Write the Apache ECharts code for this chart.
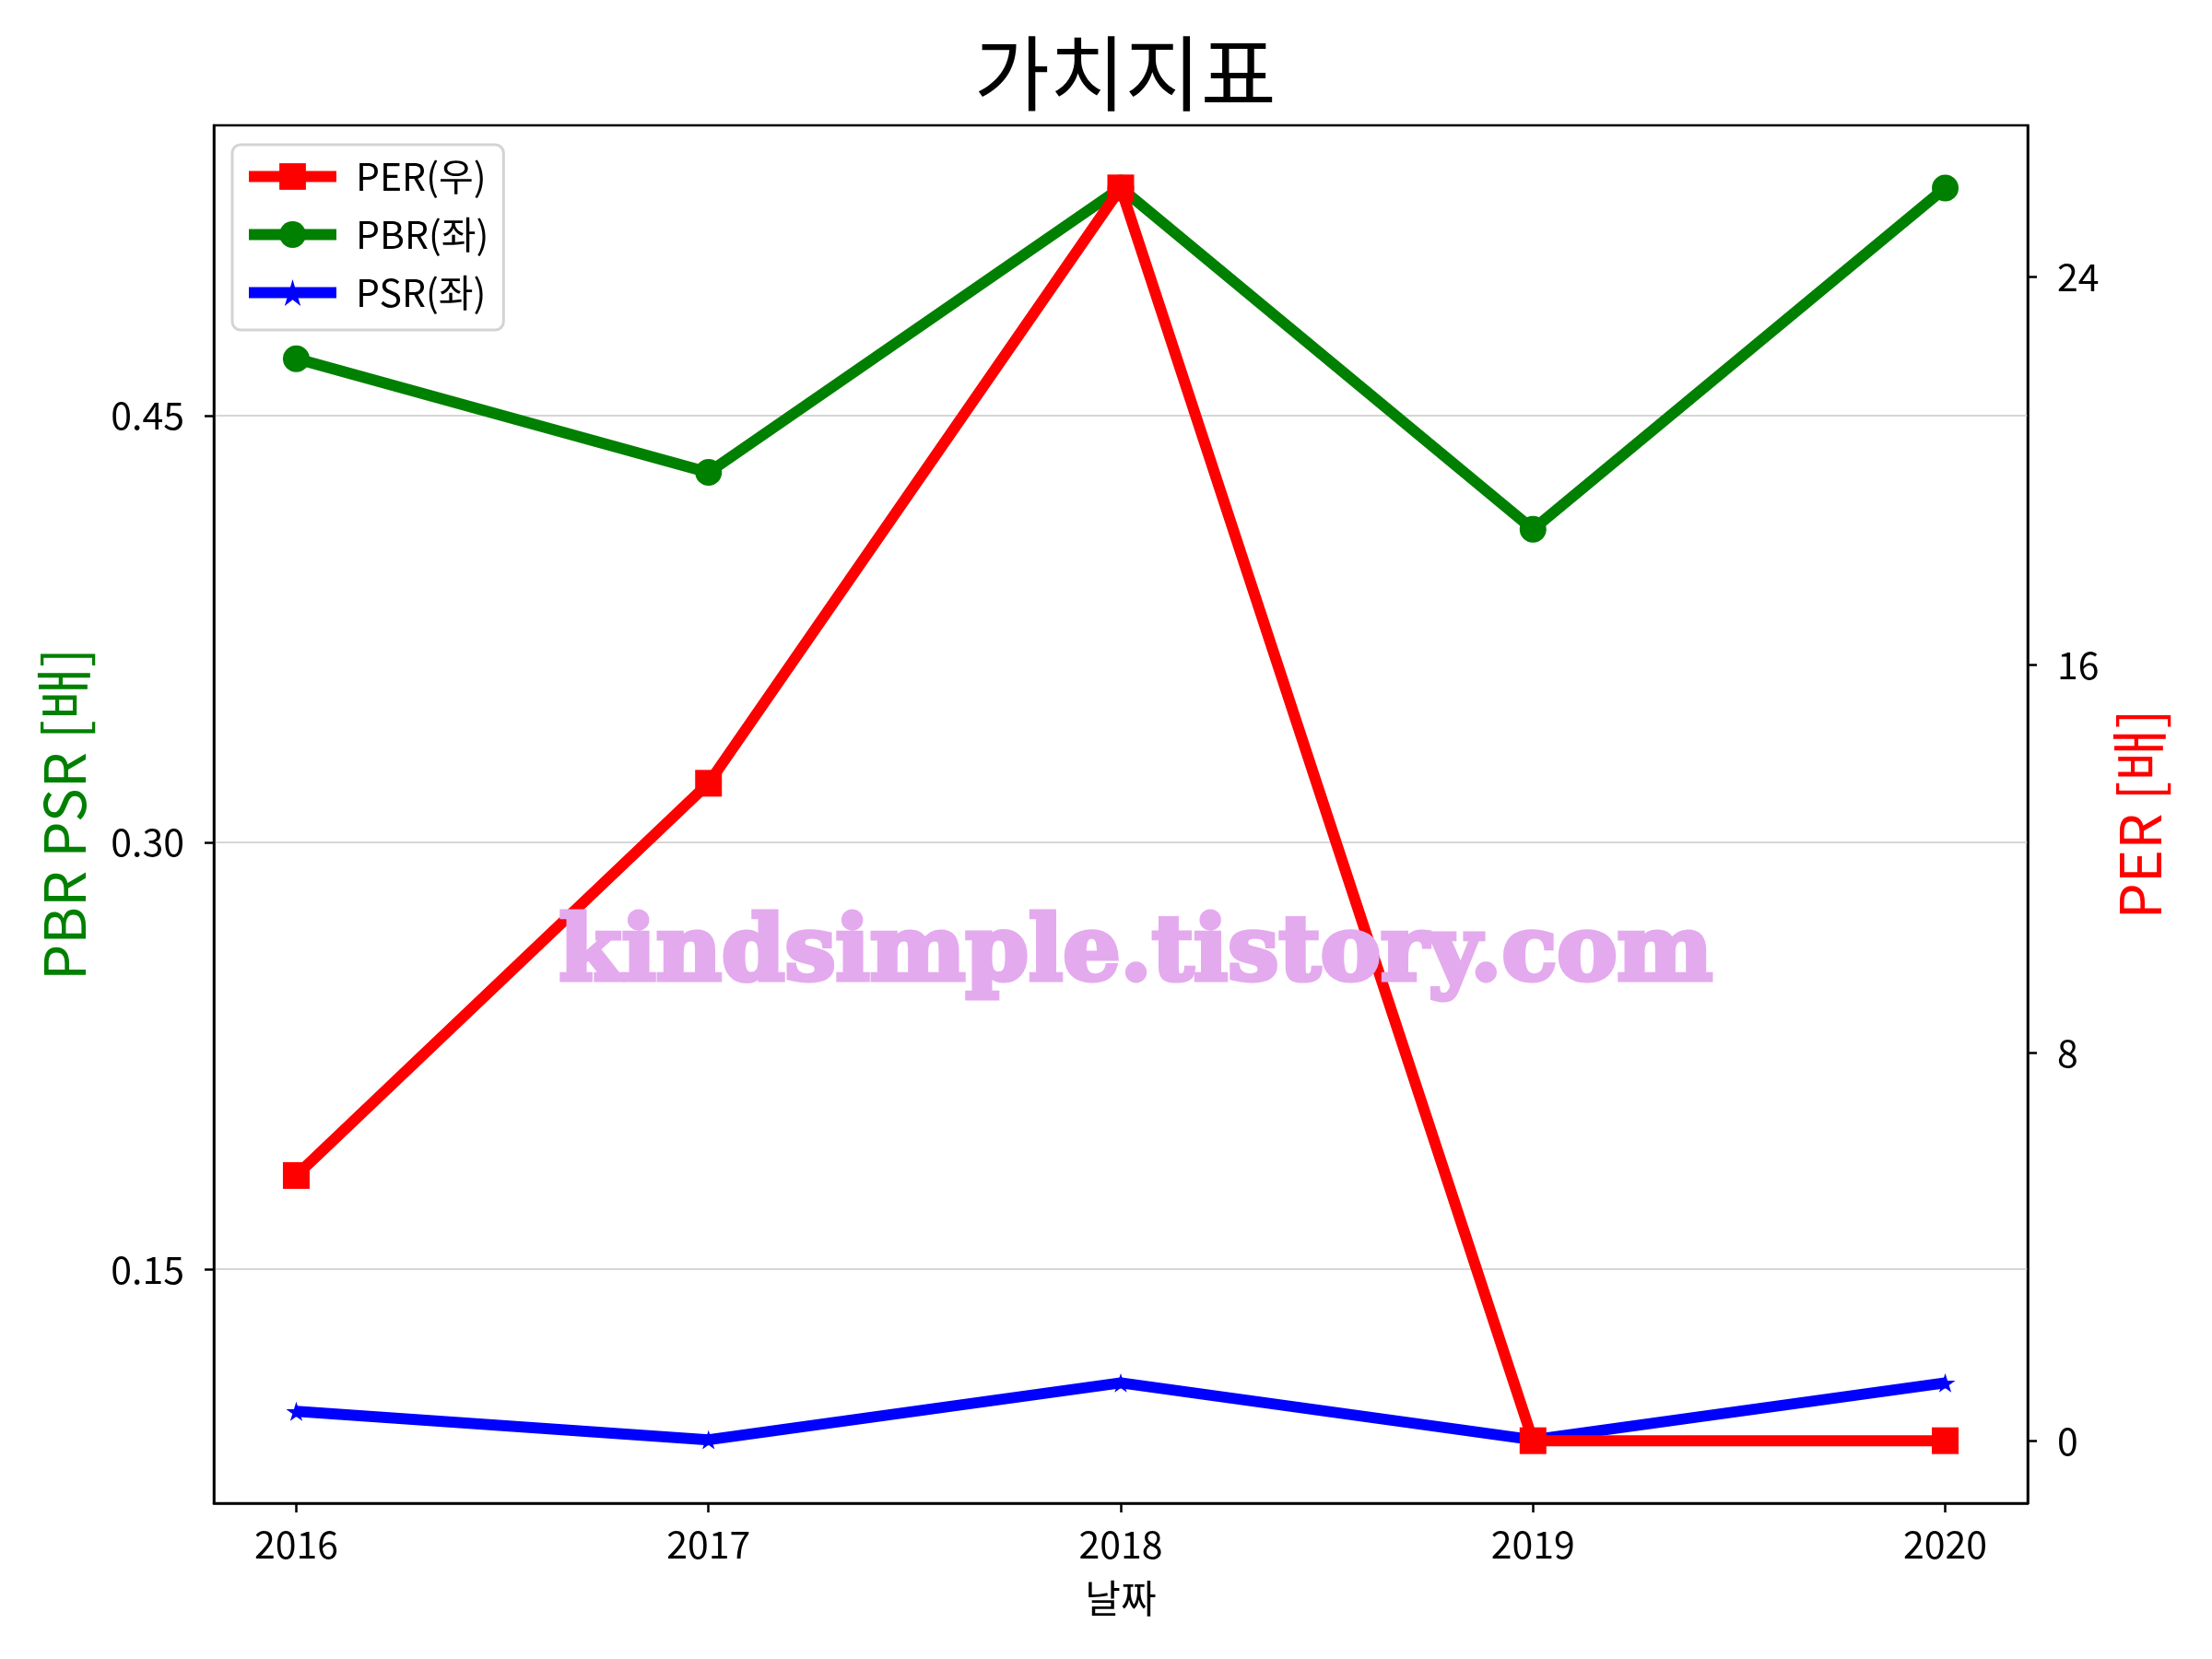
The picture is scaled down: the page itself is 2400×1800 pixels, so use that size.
<!DOCTYPE html>
<html>
<head>
<meta charset="utf-8">
<script src="https://cdn.jsdelivr.net/npm/echarts@6/dist/echarts.min.js"></script>
<style>html,body{margin:0;padding:0;background:#fff;}#chart{width:2400px;height:1800px;}</style>
</head>
<body>
<div id="chart"></div>
<script>
const years = [2016, 2017, 2018, 2019, 2020];
const perValues = [5.47, 13.56, 25.84, 0, 0];
const pbrValues = [0.470, 0.430, 0.530, 0.410, 0.530];
const psrValues = [0.100, 0.090, 0.110, 0.090, 0.110];
const leftTicks = [0.15, 0.30, 0.45];
const rightTicks = [0, 8, 16, 24];
const xTicks = [2016, 2017, 2018, 2019, 2020];

const FONT = '"Noto Sans CJK KR", "Noto Sans", sans-serif';
const starPath = 'path://M50,0 L61,35 L98,35 L68,57 L79,91 L50,70 L21,91 L32,57 L2,35 L39,35 Z';

function pairs(vals) { return years.map((y, i) => [y, vals[i]]); }

const chart = echarts.init(document.getElementById('chart'), null, {renderer: 'canvas'});
chart.setOption({
  backgroundColor: '#fff',
  animation: false,
  title: {
    text: '가치지표', left: 1052, top: 30,
    textStyle: {fontFamily: FONT, fontSize: 89, fontWeight: 'normal', color: '#000'}
  },
  legend: {
    orient: 'vertical', left: 252, top: 157,
    data: ['PER(우)', 'PBR(좌)', 'PSR(좌)'],
    itemWidth: 95, itemHeight: 36, itemGap: 22,
    padding: [14, 16, 20, 12],
    lineStyle: {width: 12},
    backgroundColor: '#fff', borderColor: '#d4d4d4', borderWidth: 3, borderRadius: 9,
    textStyle: {fontFamily: FONT, fontSize: 41, color: '#000', padding: [0, 0, 0, 16]}
  },
  grid: {left: 232, right: 200, top: 136, bottom: 169, show: true, borderColor: '#000', borderWidth: 2.5, backgroundColor: 'transparent'},
  xAxis: {
    type: 'value', min: 2015.8, max: 2020.2,
    name: '날짜', nameLocation: 'middle', nameGap: 82,
    nameTextStyle: {fontFamily: FONT, fontSize: 42, color: '#000'},
    axisLine: {show: true, onZero: false, lineStyle: {color: '#000', width: 2.5}},
    axisTick: {show: true, length: 10, lineStyle: {color: '#000', width: 2.5}, customValues: xTicks},
    axisLabel: {fontFamily: FONT, fontSize: 41, color: '#000', margin: 24, customValues: xTicks, formatter: v => String(v)},
    splitLine: {show: false}
  },
  yAxis: [
    {
      type: 'value', min: 0.0677, max: 0.552, position: 'left',
      name: 'PBR PSR [배]', nameLocation: 'middle', nameGap: 132, nameRotate: 90,
      nameTextStyle: {fontFamily: FONT, fontSize: 62, color: '#008000'},
      axisLine: {show: true, onZero: false, lineStyle: {color: '#000', width: 2.5}},
      axisTick: {show: true, length: 10, lineStyle: {color: '#000', width: 2.5}, customValues: leftTicks},
      axisLabel: {fontFamily: FONT, fontSize: 41, color: '#000', margin: 32, customValues: leftTicks, formatter: v => v.toFixed(2)},
      splitLine: {show: false}
    },
    {
      type: 'value', min: -1.29, max: 27.13, position: 'right',
      name: 'PER [배]', nameLocation: 'middle', nameGap: 90, nameRotate: 90,
      nameTextStyle: {fontFamily: FONT, fontSize: 62, color: '#ff0000'},
      axisLine: {show: true, onZero: false, lineStyle: {color: '#000', width: 2.5}},
      axisTick: {show: true, length: 10, lineStyle: {color: '#000', width: 2.5}, customValues: rightTicks},
      axisLabel: {fontFamily: FONT, fontSize: 41, color: '#000', margin: 32, customValues: rightTicks, formatter: v => String(v)},
      splitLine: {show: false}
    }
  ],
  graphic: [{
    type: 'text', left: 604, top: 986, z: 100, silent: true,
    style: {
      text: 'kindsimple.tistory.com',
      font: 'bold 98px "DejaVu Serif", serif',
      fill: '#e4aaee',
      stroke: '#e4aaee',
      lineWidth: 5,
      lineJoin: 'round'
    }
  }],
  series: [
    {
      name: 'gridlines', type: 'line', yAxisIndex: 0, data: [], z: 0, silent: true,
      markLine: {
        silent: true, symbol: 'none', label: {show: false}, z: 0,
        lineStyle: {color: '#d6d6d6', width: 2, type: 'solid'},
        emphasis: {disabled: true},
        data: leftTicks.map(v => ({yAxis: v}))
      }
    },
    {
      name: 'PBR(좌)', type: 'line', yAxisIndex: 0, data: pairs(pbrValues), z: 3,
      symbol: 'circle', symbolSize: 29,
      lineStyle: {color: '#008000', width: 12},
      itemStyle: {color: '#008000'}
    },
    {
      name: 'PSR(좌)', type: 'line', yAxisIndex: 0, data: pairs(psrValues), z: 3,
      symbol: starPath, symbolSize: 22, symbolKeepAspect: true,
      lineStyle: {color: '#0000ff', width: 12},
      itemStyle: {color: '#0000ff'}
    },
    {
      name: 'PER(우)', type: 'line', yAxisIndex: 1, data: pairs(perValues), z: 5,
      symbol: 'rect', symbolSize: 29,
      lineStyle: {color: '#ff0000', width: 12},
      itemStyle: {color: '#ff0000'}
    }
  ]
});
</script>
</body>
</html>
